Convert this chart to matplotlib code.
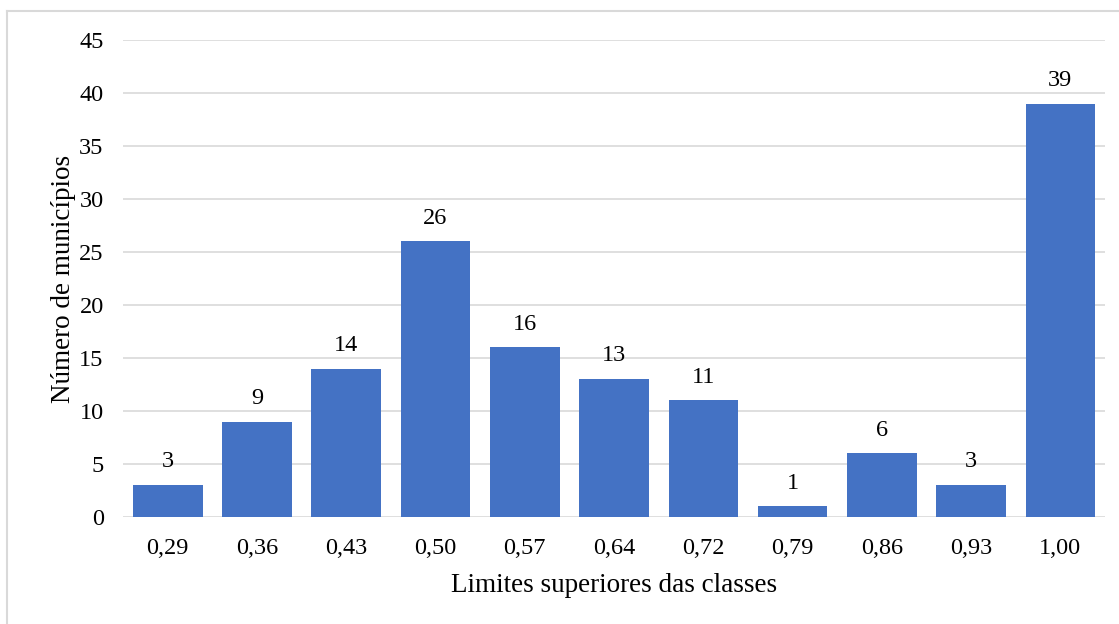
import matplotlib
matplotlib.use("Agg")
import matplotlib.pyplot as plt
from matplotlib.lines import Line2D

CLASSES = ["0,29", "0,36", "0,43", "0,50", "0,57", "0,64", "0,72", "0,79", "0,86", "0,93", "1,00"]
COUNTS = [3, 9, 14, 26, 16, 13, 11, 1, 6, 3, 39]
YTICKS = [0, 5, 10, 15, 20, 25, 30, 35, 40, 45]

plt.rcParams["font.family"] = ["Liberation Serif", "DejaVu Serif"]

fig = plt.figure(figsize=(11.19, 6.24), dpi=100)
ax = fig.add_axes([0.110, 0.1715, 0.8775, 0.7644])

x = range(len(CLASSES))
bars = ax.bar(x, COUNTS, width=0.78, color="#4472C4", zorder=3)
for rect, v in zip(bars, COUNTS):
    ax.text(rect.get_x() + rect.get_width() / 2, v + 1.2, str(v),
            ha="center", va="bottom", fontsize=17.5, color="#000000")

ax.set_xlim(-0.5, len(CLASSES) - 0.5)
ax.set_ylim(0, 45)
ax.set_yticks(YTICKS)
ax.set_xticks(list(x))
ax.set_xticklabels(CLASSES)
ax.tick_params(axis="both", length=0, labelsize=17.5, colors="#000000")
ax.tick_params(axis="y", pad=14)
ax.tick_params(axis="x", pad=15)
ax.yaxis.grid(True, color="#d9d9d9", linewidth=1.2, zorder=0)
for s in ax.spines.values():
    s.set_visible(False)

ax.set_xlabel("Limites superiores das classes", fontsize=19.5, labelpad=10)
ax.set_ylabel("Número de municípios", fontsize=19.5, labelpad=2)

# outer chart frame (left and top edges visible)
fig.add_artist(Line2D([7 / 1119, 7 / 1119], [0, 1 - 11 / 624], transform=fig.transFigure,
                      color="#d9d9d9", linewidth=1.5))
fig.add_artist(Line2D([7 / 1119, 1], [1 - 11 / 624, 1 - 11 / 624], transform=fig.transFigure,
                      color="#d9d9d9", linewidth=1.5))

fig.savefig("out.png", dpi=100)
